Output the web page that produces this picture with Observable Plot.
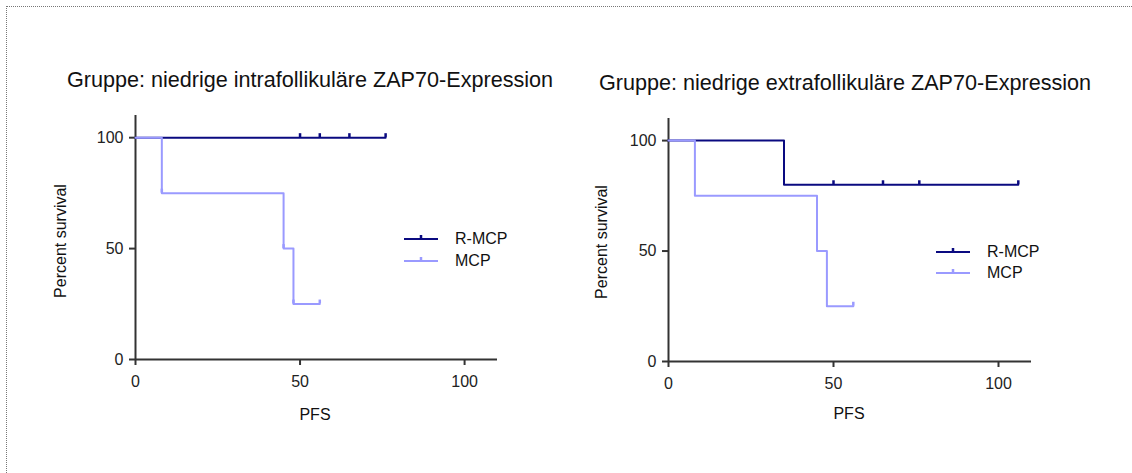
<!DOCTYPE html>
<html>
<head>
<meta charset="utf-8">
<script src="https://cdn.jsdelivr.net/npm/d3@7"></script>
<script src="https://cdn.jsdelivr.net/npm/@observablehq/plot@0.6"></script>
<style>
  html, body { margin: 0; padding: 0; background: #fff; }
  #root { position: relative; width: 1132px; height: 473px; overflow: hidden;
          font-family: "Liberation Sans", Arial, sans-serif; color: #111; }
  .abs { position: absolute; white-space: nowrap; line-height: 1; }
  .c { transform: translate(-50%, -50%); }
  .lc { transform: translate(0, -50%); }
  .plotbox { position: absolute; top: 0; }
  .border { position: absolute; left: 6px; top: 6px; right: -2px; bottom: -2px;
            border-top: 1px dotted #777; border-left: 1px dotted #777; }
</style>
</head>
<body>
<div id="root">
  <div class="border"></div>
</div>
<script>
// ---------- data ----------
const xTicks = [0, 50, 100];
const yTicks = [0, 50, 100];
const seriesNames = ["R-MCP", "MCP"];
const titles = ["Gruppe: niedrige intrafollikuläre ZAP70-Expression",
                "Gruppe: niedrige extrafollikuläre ZAP70-Expression"];
const xLabel = "PFS";
const yLabel = "Percent survival";

// left panel (intrafollicular)
const leftRmcpTime = [0, 76];
const leftRmcpSurv = [100, 100];
const leftRmcpMarkTime = [50, 56, 65, 76];
const leftRmcpMarkSurv = [100, 100, 100, 100];
const leftMcpTime = [0, 8, 45, 48, 56];
const leftMcpSurv = [100, 75, 50, 25, 25];
const leftMcpMarkTime = [8, 45, 48, 56];
const leftMcpMarkSurv = [75, 50, 25, 25];

// right panel (extrafollicular)
const rightRmcpTime = [0, 35, 106];
const rightRmcpSurv = [100, 80, 80];
const rightRmcpMarkTime = [50, 65, 76, 106];
const rightRmcpMarkSurv = [80, 80, 80, 80];
const rightMcpTime = [0, 8, 45, 48, 56];
const rightMcpSurv = [100, 75, 50, 25, 25];
const rightMcpMarkTime = [56];
const rightMcpMarkSurv = [25];

const colors = ["#0a0a80", "#9a9aff"];

const zip = (t, s) => t.map((v, i) => ({t: v, s: s[i]}));

function makePlot(cfg) {
  const axisColor = "#333";
  return Plot.plot({
    width: cfg.width, height: 473,
    marginLeft: cfg.ml, marginRight: cfg.mr, marginTop: cfg.mt, marginBottom: cfg.mb,
    x: {domain: [0, 110]},
    y: {domain: [0, 110]},
    style: {fontFamily: "'Liberation Sans', Arial, sans-serif", fontSize: "16px",
            background: "transparent", overflow: "visible", color: "#222"},
    marks: [
      Plot.axisX({ticks: xTicks, tickSize: 6, tickPadding: 10, fontSize: 16,
                  label: null, stroke: axisColor, strokeWidth: 2, fill: "#222"}),
      Plot.axisY({ticks: yTicks, tickSize: 6, tickPadding: 6, fontSize: 16,
                  label: null, stroke: axisColor, strokeWidth: 2, fill: "#222"}),
      Plot.ruleX([0], {stroke: axisColor, strokeWidth: 2}),
      Plot.ruleY([0], {stroke: axisColor, strokeWidth: 2}),
      Plot.line(zip(cfg.rT, cfg.rS), {x: "t", y: "s", curve: "step-after",
                stroke: colors[0], strokeWidth: 2}),
      Plot.ruleX(zip(cfg.rMT, cfg.rMS), {x: "t", y1: "s", y2: "s", insetTop: -4,
                stroke: colors[0], strokeWidth: 2.5}),
      Plot.line(zip(cfg.mT, cfg.mS), {x: "t", y: "s", curve: "step-after",
                stroke: colors[1], strokeWidth: 2}),
      Plot.ruleX(zip(cfg.mMT, cfg.mMS), {x: "t", y1: "s", y2: "s", insetTop: -4,
                stroke: colors[1], strokeWidth: 2.5})
    ]
  });
}

const root = document.getElementById("root");

function addText(txt, x, y, size, cls) {
  const d = document.createElement("div");
  d.className = "abs " + (cls || "c");
  d.style.left = x + "px"; d.style.top = y + "px"; d.style.fontSize = size + "px";
  d.textContent = txt;
  root.appendChild(d);
  return d;
}

function addLegend(x, y0, y1, textX) {
  [y0, y1].forEach((y, i) => {
    const svg = d3.create("svg").attr("width", 36).attr("height", 10)
      .style("position", "absolute").style("left", x + "px").style("top", (y - 6) + "px");
    svg.append("line").attr("x1", 0).attr("x2", 34).attr("y1", 6).attr("y2", 6)
      .attr("stroke", colors[i]).attr("stroke-width", 2);
    svg.append("line").attr("x1", 17).attr("x2", 17).attr("y1", 6).attr("y2", 2)
      .attr("stroke", colors[i]).attr("stroke-width", 2.5);
    root.appendChild(svg.node());
    addText(seriesNames[i], textX, y, 16, "lc");
  });
}

const panels = [
  {left: 0, width: 560, ml: 135, mr: 63, mt: 115, mb: 114,
   rT: leftRmcpTime, rS: leftRmcpSurv, rMT: leftRmcpMarkTime, rMS: leftRmcpMarkSurv,
   mT: leftMcpTime, mS: leftMcpSurv, mMT: leftMcpMarkTime, mMS: leftMcpMarkSurv,
   title: titles[0], titleX: 310, titleY: 80, xlX: 315, xlY: 415, ylX: 61, ylY: 241,
   legX: 404, legY0: 239, legY1: 261, legTX: 455},
  {left: 560, width: 572, ml: 108, mr: 101, mt: 118, mb: 112,
   rT: rightRmcpTime, rS: rightRmcpSurv, rMT: rightRmcpMarkTime, rMS: rightRmcpMarkSurv,
   mT: rightMcpTime, mS: rightMcpSurv, mMT: rightMcpMarkTime, mMS: rightMcpMarkSurv,
   title: titles[1], titleX: 845, titleY: 83, xlX: 849, xlY: 414, ylX: 602, ylY: 242,
   legX: 936, legY0: 252, legY1: 273, legTX: 987}
];

panels.forEach(p => {
  const svg = makePlot(p);
  const box = document.createElement("div");
  box.className = "plotbox";
  box.style.left = p.left + "px";
  box.appendChild(svg);
  root.appendChild(box);
  addText(p.title, p.titleX, p.titleY, 21.6);
  addText(xLabel, p.xlX, p.xlY, 16);
  const yl = addText(yLabel, p.ylX, p.ylY, 16);
  yl.style.transform = "translate(-50%, -50%) rotate(-90deg)";
  addLegend(p.legX, p.legY0, p.legY1, p.legTX);
});
</script>
</body>
</html>
